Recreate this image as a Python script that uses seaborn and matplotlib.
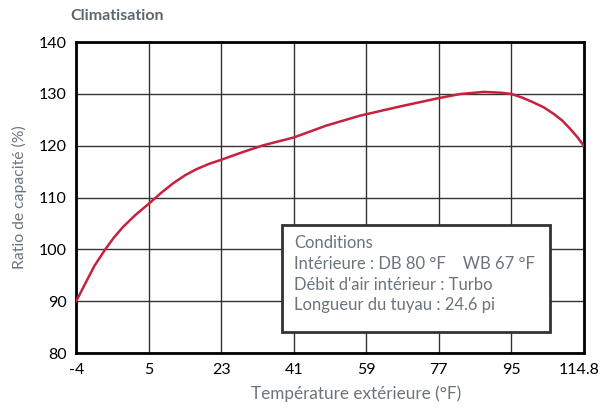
import matplotlib
matplotlib.use("Agg")
import matplotlib.pyplot as plt
import matplotlib.transforms as mtransforms
import seaborn as sns
import pandas as pd
from matplotlib.patches import Rectangle

# Data (x is tick-position index on the categorical axis)
x_tick_labels = ["-4", "5", "23", "41", "59", "77", "95", "114.8"]
curve_pos = [0, 0.08, 0.15, 0.25, 0.40, 0.52, 0.65, 0.82, 1.0, 1.17, 1.34, 1.5, 1.66,
             1.83, 2.0, 2.3, 2.58, 3.0, 3.45, 3.91, 4.47, 5.0, 5.3, 5.62, 5.85, 6.0,
             6.15, 6.3, 6.45, 6.58, 6.7, 6.81, 6.91, 7.0]
curve_ratio = [90, 92.2, 94.1, 96.8, 100, 102.3, 104.4, 106.7, 108.8, 110.9, 112.8,
               114.3, 115.5, 116.5, 117.3, 118.8, 120.1, 121.6, 123.9, 125.8, 127.6,
               129.2, 130.0, 130.4, 130.25, 130.0, 129.3, 128.4, 127.4, 126.2, 124.9,
               123.3, 121.7, 120]
y_ticks = [80, 90, 100, 110, 120, 130, 140]
conditions = ["Conditions",
              "Intérieure : DB 80 °F    WB 67 °F",
              "Débit d'air intérieur : Turbo",
              "Longueur du tuyau : 24.6 pi"]

sns.set_theme(style="white")
plt.rcParams['font.family'] = ['Lato', 'DejaVu Sans']

fig, ax = plt.subplots(figsize=(6, 4.13), dpi=100)
fig.subplots_adjust(left=0.127, right=0.973, top=0.898, bottom=0.145)

df = pd.DataFrame({"pos": curve_pos, "ratio": curve_ratio})
sns.lineplot(data=df, x="pos", y="ratio", ax=ax, color="#c8203f", linewidth=1.8, zorder=3)

ax.set_xlim(0, len(x_tick_labels) - 1)
ax.set_ylim(80, 140)
ax.set_xticks(range(len(x_tick_labels)))
ax.set_xticklabels(x_tick_labels)
ax.set_yticks(y_ticks)
ax.tick_params(axis="both", labelsize=11.5, colors="black", length=0, pad=7)
ax.grid(True, color="#333333", linewidth=1.0)
for s in ax.spines.values():
    s.set_color("black")
    s.set_linewidth(2)

last = ax.get_xticklabels()[-1]
last.set_transform(last.get_transform() +
                   mtransforms.ScaledTranslation(-5 / 100, 0, fig.dpi_scale_trans))

ax.set_xlabel("Température extérieure (°F)", color="#6b747c", fontsize=12.3)
ax.xaxis.set_label_coords(0.551, -0.105)
ax.set_ylabel("Ratio de capacité (%)", color="#6b747c", fontsize=11.3, labelpad=8)
fig.text(0.118, 0.962, "Climatisation", fontsize=11.5, fontweight="bold", color="#5d6770",
         ha="left", va="center")

# Conditions box
box = Rectangle((2.84, 84.05), 6.53 - 2.84, 104.7 - 84.05, facecolor="white",
                edgecolor="#333333", linewidth=2, zorder=4)
ax.add_patch(box)
ax.text(3.01, 102.7, "\n".join(conditions), fontsize=12, color="#6b747c", va="top",
        ha="left", linespacing=1.35, zorder=5)

fig.savefig("out.png", dpi=100)
